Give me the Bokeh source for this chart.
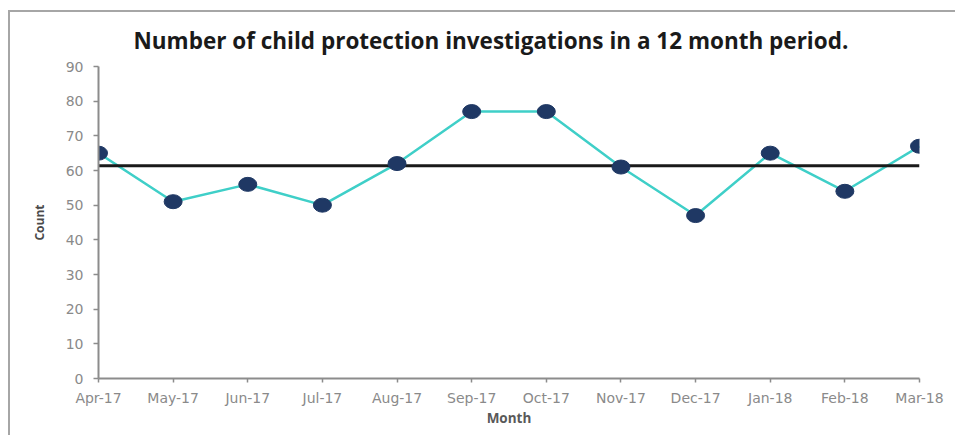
from bokeh.plotting import figure
from bokeh.models import Range1d, FixedTicker
from bokeh.embed import file_html
from bokeh.resources import INLINE

months = ["Apr-17", "May-17", "Jun-17", "Jul-17", "Aug-17", "Sep-17",
          "Oct-17", "Nov-17", "Dec-17", "Jan-18", "Feb-18", "Mar-18"]
counts = [65, 51, 56, 50, 62, 77, 77, 61, 47, 65, 54, 67]
mean_value = 61.4
y_ticks = [0, 10, 20, 30, 40, 50, 60, 70, 80, 90]

xs = list(range(len(months)))

p = figure(width=947, height=425, output_backend="svg", toolbar_location=None,
           x_range=Range1d(0, len(months) - 1), y_range=Range1d(0, 90),
           title="Number of child protection investigations in a 12 month period.",
           min_border_left=88, min_border_right=38, min_border_top=12, min_border_bottom=59,
           styles={"border-left": "2px solid #a6a6a6", "border-top": "2px solid #a6a6a6",
                   "margin-top": "10px", "margin-left": "8px"})

p.title.text_font = "Open Sans"
p.title.text_font_style = "bold"
p.title.text_font_size = "22.5px"
p.title.text_color = "#1a1a1a"
p.title.align = "left"
p.title.offset = 35
p.title.standoff = 21

p.outline_line_color = None
p.xgrid.grid_line_color = None
p.ygrid.grid_line_color = None
p.background_fill_color = "white"
p.border_fill_color = "white"

for ax in (p.xaxis[0], p.yaxis[0]):
    ax.axis_line_color = "#8c8c8c"
    ax.axis_line_width = 2
    ax.major_tick_line_color = "#8c8c8c"
    ax.major_tick_line_width = 1.5
    ax.minor_tick_line_color = None
    ax.major_tick_in = 0
    ax.major_label_text_font = "DejaVu Sans"
    ax.major_label_text_font_size = "14px"
    ax.major_label_text_color = "#8a8a8a"
    ax.axis_label_text_font = "Open Sans"
    ax.axis_label_text_font_style = "bold"
    ax.axis_label_text_color = "#4a4a4a"

p.yaxis[0].ticker = FixedTicker(ticks=y_ticks)
p.yaxis[0].major_tick_out = 5
p.yaxis[0].major_label_standoff = 10
p.yaxis[0].axis_label = "Count"
p.yaxis[0].axis_label_text_font_size = "12px"
p.yaxis[0].axis_label_standoff = 15

p.xaxis[0].ticker = FixedTicker(ticks=xs)
p.xaxis[0].major_label_overrides = {i: m for i, m in zip(xs, months)}
p.xaxis[0].major_tick_out = 4
p.xaxis[0].major_label_standoff = 7
p.xaxis[0].axis_label = "Month"
p.xaxis[0].axis_label_text_font_size = "13.5px"
p.xaxis[0].axis_label_text_color = "#595959"
p.xaxis[0].axis_label_standoff = 0

p.line(xs, counts, line_color="#3fcfc8", line_width=2.5)
p.line([xs[0], xs[-1]], [mean_value, mean_value], line_color="#1a1a1a", line_width=3)
p.ellipse(xs, counts, width=18, height=14, width_units="screen", height_units="screen",
          fill_color="#1f3864", line_color="#1f3864")

open("out.html", "w").write(file_html(p, INLINE))
